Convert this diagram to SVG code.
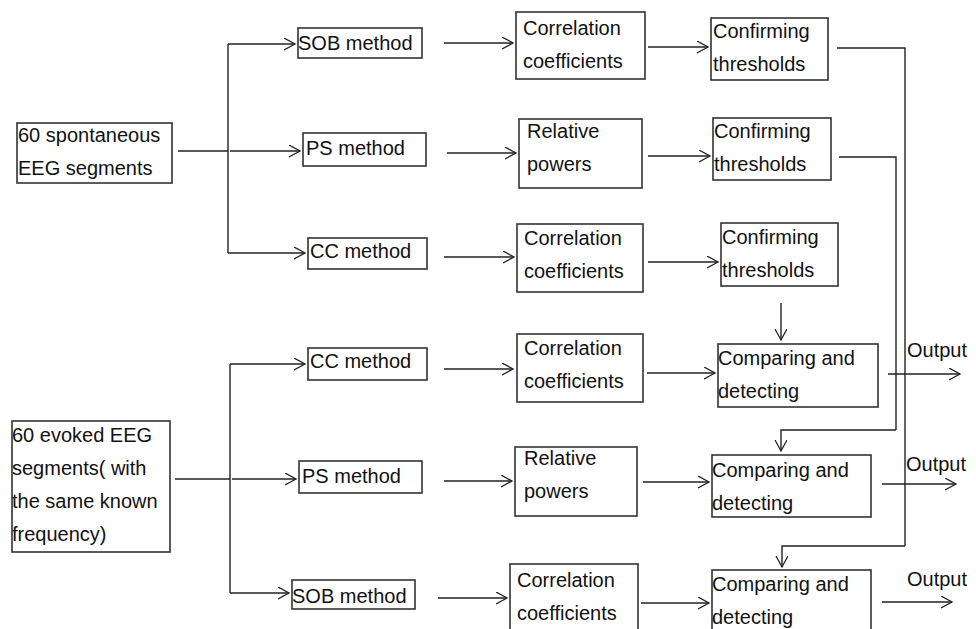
<svg xmlns="http://www.w3.org/2000/svg" width="976" height="629" viewBox="0 0 976 629">
<defs>
<marker id="ah" markerUnits="userSpaceOnUse" markerWidth="14" markerHeight="14" refX="11" refY="6" orient="auto">
<path d="M0,0 L11,6 L0,12" fill="none" stroke="#222" stroke-width="1.3"/>
</marker>
<style>
rect{fill:#fff;stroke:#333;stroke-width:1.6}
text{font-family:"Liberation Sans",Arial,sans-serif;font-size:20px;fill:#111}
.c path{fill:none;stroke:#222;stroke-width:1.4}
.c .a{marker-end:url(#ah)}
</style>
</defs>
<rect x="0" y="0" width="976" height="629" style="fill:#fff;stroke:none"/>
<g class="c" id="connectors">
<path d="M178,151 H228"/>
<path d="M228,44 V253"/>
<path class="a" d="M228,44 H295"/>
<path class="a" d="M230,151 H300"/>
<path class="a" d="M228,253 H305"/>
<path class="a" d="M444,43 H513"/>
<path class="a" d="M447,153 H516"/>
<path class="a" d="M444,257 H514"/>
<path class="a" d="M648,47 H708"/>
<path class="a" d="M648,156 H710"/>
<path class="a" d="M648,262 H718"/>
<path d="M837,48 H905 V546"/>
<path d="M839,157 H896 V430"/>
<path class="a" d="M781,303 V340"/>
<path class="a" d="M896,430 H781 V451"/>
<path class="a" d="M905,546 H782 V567"/>
<path d="M175,479 H230"/>
<path d="M230,364 V593"/>
<path class="a" d="M230,364 H305"/>
<path class="a" d="M232,479 H296"/>
<path class="a" d="M230,593 H289"/>
<path class="a" d="M444,369 H513"/>
<path class="a" d="M444,481 H512"/>
<path class="a" d="M438,598 H507"/>
<path class="a" d="M647,373 H715"/>
<path class="a" d="M643,482 H709"/>
<path class="a" d="M641,603 H709"/>
<path class="a" d="M888,374 H960"/>
<path class="a" d="M882,484 H956"/>
<path class="a" d="M882,602 H952"/>
</g>
<g id="spont"><rect x="17" y="123" width="155" height="60"/><text x="18" y="142">60 spontaneous</text><text x="18" y="175">EEG segments</text></g>
<g id="sob1"><rect x="298" y="28" width="124" height="30"/><text x="298" y="50">SOB method</text></g>
<g id="ps1"><rect x="303" y="133" width="123" height="33"/><text x="306" y="155">PS method</text></g>
<g id="cc1"><rect x="308" y="238" width="119" height="31"/><text x="310" y="258">CC method</text></g>
<g id="corr1"><rect x="516" y="12" width="129" height="67"/><text x="523" y="35">Correlation</text><text x="523" y="68">coefficients</text></g>
<g id="rel1"><rect x="519" y="119" width="123" height="69"/><text x="527" y="138">Relative</text><text x="527" y="171">powers</text></g>
<g id="corr3"><rect x="517" y="224" width="126" height="68"/><text x="524" y="245">Correlation</text><text x="524" y="278">coefficients</text></g>
<g id="conf1"><rect x="711" y="18" width="117" height="62"/><text x="713" y="38">Confirming</text><text x="713" y="71">thresholds</text></g>
<g id="conf2"><rect x="713" y="118" width="118" height="62"/><text x="714" y="138">Confirming</text><text x="714" y="171">thresholds</text></g>
<g id="conf3"><rect x="721" y="223" width="117" height="63"/><text x="722" y="244">Confirming</text><text x="722" y="277">thresholds</text></g>
<g id="evoked"><rect x="12" y="421" width="158" height="131"/><text x="12" y="442">60 evoked EEG</text><text x="12" y="475">segments( with</text><text x="12" y="508">the same known</text><text x="12" y="541">frequency)</text></g>
<g id="cc2"><rect x="308" y="348" width="119" height="32"/><text x="310" y="368">CC method</text></g>
<g id="ps2"><rect x="299" y="461" width="123" height="32"/><text x="302" y="483">PS method</text></g>
<g id="sob2"><rect x="292" y="580" width="123" height="29"/><text x="292" y="603">SOB method</text></g>
<g id="corr4"><rect x="517" y="334" width="126" height="68"/><text x="524" y="355">Correlation</text><text x="524" y="388">coefficients</text></g>
<g id="rel2"><rect x="515" y="447" width="122" height="69"/><text x="524" y="465">Relative</text><text x="524" y="498">powers</text></g>
<g id="corr6"><rect x="510" y="564" width="128" height="80"/><text x="517" y="587">Correlation</text><text x="517" y="620">coefficients</text></g>
<g id="cmp1"><rect x="718" y="344" width="160" height="63"/><text x="718" y="365">Comparing and</text><text x="718" y="398">detecting</text></g>
<g id="cmp2"><rect x="712" y="455" width="159" height="62"/><text x="712" y="477">Comparing and</text><text x="712" y="510">detecting</text></g>
<g id="cmp3"><rect x="712" y="570" width="159" height="75"/><text x="712" y="591">Comparing and</text><text x="712" y="624">detecting</text></g>
<g id="outputs"><text x="907" y="357">Output</text><text x="906" y="471">Output</text><text x="907" y="586">Output</text></g>
</svg>
